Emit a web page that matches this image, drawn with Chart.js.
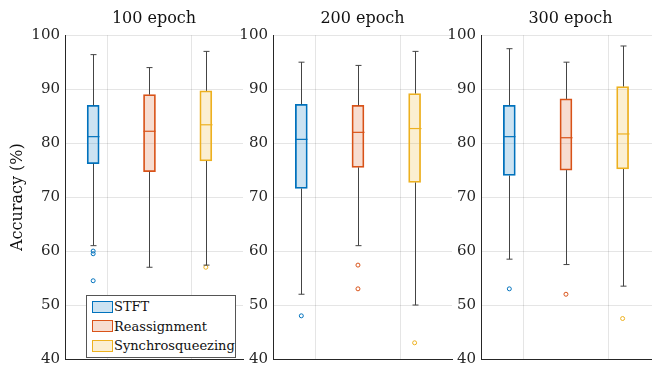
<!DOCTYPE html>
<html lang="en">
<head>
  <meta charset="UTF-8" />
  <title>Accuracy box plots</title>
  <script src="https://cdn.jsdelivr.net/npm/chart.js"></script>
  <style>
    body { margin:0; width:652px; height:366px; overflow:hidden; background:#fff; position:relative; font-family:'DejaVu Serif','Liberation Serif',serif; }
    .panel { position:absolute; top:0; }
    #legend { position:absolute; left:86px; top:295px; width:148px; height:60px; border:1px solid #555; background:#fff; font-size:13px; color:#111; padding-top:1px; }
    #legend div { display:flex; align-items:center; height:19.5px; }
    #legend span.sw { display:inline-block; width:19px; height:10px; margin:0 1px 0 5px; border:1.5px solid; }
  </style>
</head>
<body>
  <canvas id="c0" class="panel" width="248" height="366" style="left:0px"></canvas>
  <canvas id="c1" class="panel" width="235" height="366" style="left:222px"></canvas>
  <canvas id="c2" class="panel" width="235" height="366" style="left:430px"></canvas>
  <div id="legend"></div>

  <script>
    const titles = ['100 epoch', '200 epoch', '300 epoch'];
    const methods = ['STFT', 'Reassignment', 'Synchrosqueezing'];
    const yTicks = [40, 50, 60, 70, 80, 90, 100];
    const xGridAt = [1.25, 2.75];

    // one row per panel, one value per method
    const upper  = [[96.4, 94, 97],   [95, 94.4, 97],   [97.5, 95, 98]];
    const q3     = [[87, 89, 89.7],   [87.2, 87, 89.2], [87, 88.2, 90.5]];
    const median = [[81.2, 82.2, 83.4], [80.7, 82, 82.7], [81.2, 81, 81.7]];
    const q1     = [[76.2, 74.7, 76.7], [71.6, 75.5, 72.7], [74, 75, 75.2]];
    const lower  = [[61, 57, 57.4],   [52, 61, 50],     [58.5, 57.5, 53.5]];
    const outliers = [
      [[60, 59.5, 54.5], [], [57]],
      [[48], [57.4, 53], [43]],
      [[53], [52], [47.5]]
    ];

    const colors = ['#0072BD', '#D95319', '#EDB120'];
    const fills = ['rgba(0,114,189,0.2)', 'rgba(217,83,25,0.2)', 'rgba(237,177,32,0.2)'];
    const serif = "'DejaVu Serif', 'Liberation Serif', serif";

    // whiskers, caps and medians drawn via the chart scales
    const whiskerPlugin = {
      id: 'whiskers',
      afterDatasetsDraw(chart) {
        const p = chart.options.plugins.whiskers.panel;
        const xs = chart.scales.x, ys = chart.scales.y, ctx = chart.ctx;
        ctx.save();
        methods.forEach((m, i) => {
          const x = Math.round(xs.getPixelForValue(i + 1)) + 0.5;
          const yHi = ys.getPixelForValue(upper[p][i]);
          const yQ3 = ys.getPixelForValue(q3[p][i]);
          const yQ1 = ys.getPixelForValue(q1[p][i]);
          const yLo = ys.getPixelForValue(lower[p][i]);
          const yMed = ys.getPixelForValue(median[p][i]);
          ctx.strokeStyle = '#444';
          ctx.lineWidth = 1;
          ctx.beginPath();
          ctx.moveTo(x, yHi); ctx.lineTo(x, yQ3);
          ctx.moveTo(x, yQ1); ctx.lineTo(x, yLo);
          ctx.moveTo(x - 3, yHi); ctx.lineTo(x + 3, yHi);
          ctx.moveTo(x - 3, yLo); ctx.lineTo(x + 3, yLo);
          ctx.stroke();
          ctx.strokeStyle = colors[i];
          ctx.lineWidth = 1.2;
          ctx.beginPath();
          ctx.moveTo(x - 6, yMed); ctx.lineTo(x + 6, yMed);
          ctx.stroke();
        });
        ctx.restore();
      }
    };

    function makePanel(p) {
      const datasets = [];
      methods.forEach((m, i) => {
        datasets.push({
          type: 'bar',
          label: m,
          data: [{ x: i + 1, y: [q1[p][i], q3[p][i]] }],
          backgroundColor: fills[i],
          borderColor: colors[i],
          borderWidth: 1.1,
          borderSkipped: false,
          barThickness: 12,
          grouped: false
        });
        datasets.push({
          type: 'scatter',
          label: m + ' outliers',
          data: outliers[p][i].map(v => ({ x: i + 1, y: v })),
          pointStyle: 'circle',
          pointRadius: 2,
          borderColor: colors[i],
          backgroundColor: 'rgba(0,0,0,0)',
          borderWidth: 1
        });
      });

      new Chart(document.getElementById('c' + p), {
        type: 'bar',
        data: { datasets },
        plugins: [whiskerPlugin],
        options: {
          responsive: false,
          animation: false,
          layout: { padding: 0 },
          plugins: {
            legend: { display: false },
            tooltip: { enabled: false },
            whiskers: { panel: p },
            title: {
              display: true,
              text: titles[p],
              align: 'center',
              fullSize: false,
              color: '#111',
              font: { family: serif, size: 16, weight: 'normal' },
              padding: { top: 9, bottom: 7 }
            }
          },
          scales: {
            x: {
              type: 'linear',
              offset: false,
              min: 0.5,
              max: 3.66,
              afterBuildTicks: s => { s.ticks = xGridAt.map(v => ({ value: v })); },
              afterFit: s => { s.height = 7; },
              ticks: { display: false },
              grid: { color: 'rgba(0,0,0,0.1)', drawTicks: false, offset: false },
              border: { display: true, color: '#262626', width: 1 }
            },
            y: {
              min: 40,
              max: 100,
              afterBuildTicks: s => { s.ticks = yTicks.map(v => ({ value: v })); },
              afterFit: s => { s.width = p === 0 ? 65 : 51; s.paddingTop = 0; s.paddingBottom = 0; },
              ticks: {
                color: '#262626',
                padding: 5,
                font: { family: serif, size: 15 }
              },
              grid: { color: 'rgba(0,0,0,0.1)', drawTicks: false },
              border: { display: true, color: '#262626', width: 1 },
              title: {
                display: p === 0,
                text: 'Accuracy (%)',
                color: '#111',
                font: { family: serif, size: 16 },
                padding: { top: 8, bottom: 0 }
              }
            }
          }
        }
      });
    }

    titles.forEach((t, p) => makePanel(p));

    // legend inside the first panel
    document.getElementById('legend').innerHTML = methods.map((m, i) =>
      `<div><span class="sw" style="border-color:${colors[i]};background:${fills[i]}"></span>${m}</div>`
    ).join('');
  </script>
</body>
</html>
